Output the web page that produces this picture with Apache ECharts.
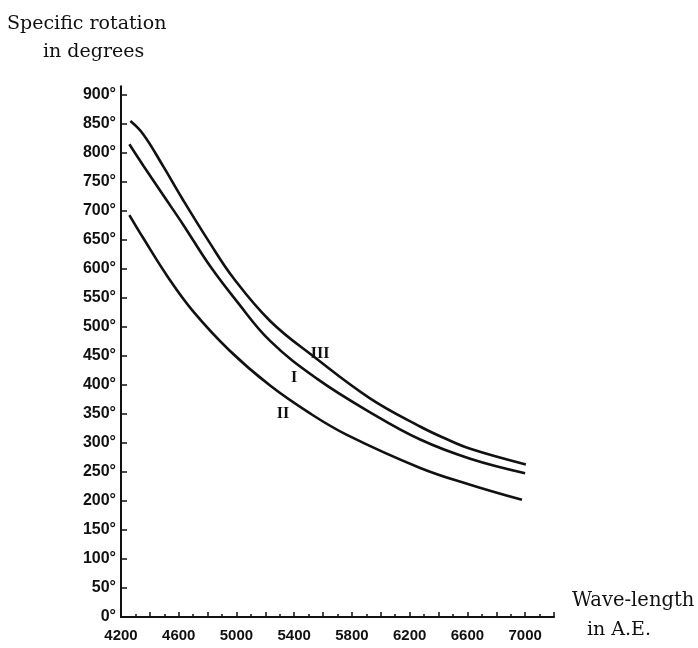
<!DOCTYPE html>
<html>
<head>
<meta charset="utf-8">
<script src="https://cdn.jsdelivr.net/npm/echarts@6/dist/echarts.min.js"></script>
<style>
html,body{margin:0;padding:0;background:#fff;}
#c{width:698px;height:648px;}
</style>
</head>
<body>
<div id="c"></div>
<script>
// Wavelength (Å) and specific rotation (degrees)
const curveI_wl  = [4258, 4355, 4493, 4632, 4817, 5000, 5233, 5557, 5926, 6273, 6619, 7000];
const curveI_rot = [815, 778, 727, 676, 605, 545, 476, 411, 353, 306, 273, 248];

const curveII_wl  = [4258, 4355, 4528, 4700, 4950, 5233, 5510, 5765, 6273, 6619, 6978];
const curveII_rot = [693, 653, 585, 527, 460, 399, 351, 314, 257, 228, 202];

const curveIII_wl  = [4265, 4355, 4495, 4630, 4815, 4980, 5235, 5535, 5925, 6275, 6435, 6620, 7005];
const curveIII_rot = [855, 832, 776, 719, 645, 584, 510, 449, 377, 328, 309, 290, 263];

const curveNames = ['I', 'II', 'III'];
const curveLabelPos = [[5399, 412], [5323, 350], [5580, 453]];

const yTickValues = [0,50,100,150,200,250,300,350,400,450,500,550,600,650,700,750,800,850,900];
const xLabelValues = [4200, 4600, 5000, 5400, 5800, 6200, 6600, 7000];

function pairs(xs, ys){ return xs.map((x,i)=>[x, ys[i]]); }

const ink = '#111';
const chart = echarts.init(document.getElementById('c'), null, {renderer:'canvas'});

const curves = [
  pairs(curveI_wl, curveI_rot),
  pairs(curveII_wl, curveII_rot),
  pairs(curveIII_wl, curveIII_rot)
];

const series = curves.map((d, i) => ({
  type: 'line',
  name: curveNames[i],
  data: d,
  smooth: 0.4,
  showSymbol: false,
  symbol: 'none',
  lineStyle: {color: ink, width: 2.6},
  markPoint: {
    symbol: 'circle',
    symbolSize: 0,
    data: [{coord: curveLabelPos[i], value: curveNames[i]}],
    label: {
      show: true,
      position: 'inside',
      formatter: curveNames[i],
      fontFamily: 'Liberation Serif',
      fontWeight: 'bold',
      fontSize: 16,
      color: ink
    }
  }
}));

chart.setOption({
  animation: false,
  backgroundColor: '#fff',
  title: [
    {text: 'Specific rotation', left: 7, top: 15, padding: 0,
     textStyle: {fontFamily: 'DejaVu Serif', fontSize: 19, fontWeight: 'normal', color: ink}},
    {text: 'in degrees', left: 43, top: 43, padding: 0,
     textStyle: {fontFamily: 'DejaVu Serif', fontSize: 19, fontWeight: 'normal', color: ink}},
    {text: 'Wave-length', left: 572, top: 591, padding: 0,
     textStyle: {fontFamily: 'DejaVu Serif', fontSize: 19.5, fontWeight: 'normal', color: ink}},
    {text: 'in A.E.', left: 587, top: 621, padding: 0,
     textStyle: {fontFamily: 'DejaVu Serif', fontSize: 19, fontWeight: 'normal', color: ink}}
  ],
  grid: {left: 121, right: 144, top: 86.3, bottom: 31, containLabel: false},
  xAxis: {
    type: 'value',
    min: 4200, max: 7200, interval: 200,
    splitLine: {show: false},
    axisLine: {lineStyle: {color: ink, width: 2}},
    axisTick: {show: true, inside: true, length: 5, lineStyle: {color: ink, width: 1.5}},
    minorTick: {show: true, splitNumber: 2, length: 3, lineStyle: {color: ink, width: 1.5}},
    axisLabel: {
      margin: 11,
      fontFamily: 'Liberation Sans', fontWeight: 'bold', fontSize: 15, color: ink,
      formatter: v => xLabelValues.indexOf(v) >= 0 ? String(v) : ''
    }
  },
  yAxis: {
    type: 'value',
    min: 0, max: 915, interval: 50,
    splitLine: {show: false},
    axisLine: {show: true, lineStyle: {color: ink, width: 2}},
    axisTick: {show: true, inside: true, length: 6, customValues: yTickValues.slice(1), lineStyle: {color: ink, width: 1.5}},
    axisLabel: {
      margin: 5,
      customValues: yTickValues,
      fontFamily: 'Liberation Sans', fontWeight: 'bold', fontSize: 16, color: ink,
      formatter: v => v + '°'
    }
  },
  series: series
});
</script>
</body>
</html>
